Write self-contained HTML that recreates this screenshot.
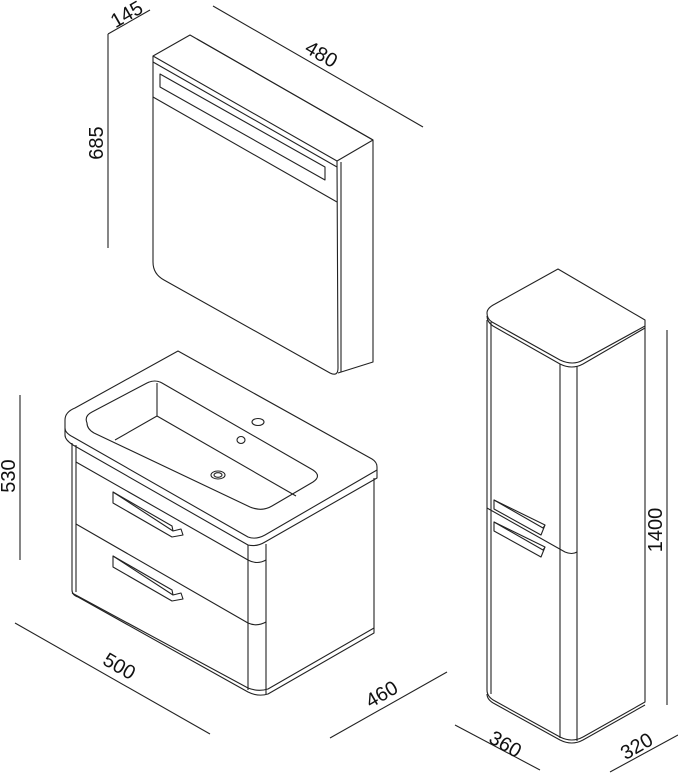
<!DOCTYPE html>
<html><head><meta charset="utf-8"><style>
html,body{margin:0;padding:0;background:#fff;}
svg{display:block;}
text{font-family:"Liberation Sans",sans-serif;font-size:20px;fill:#111;}
</style></head><body>
<svg width="678" height="779" viewBox="0 0 678 779" xmlns="http://www.w3.org/2000/svg">
<g fill="none" stroke="#222" stroke-width="1.1" stroke-linejoin="round">
<!-- Mirror cabinet -->
<path d="M153,56 L190,35 L373,140 L337,161 Z"/>
<path d="M197,39 L373,140"/>
<path d="M153,62 L337,167"/>
<path d="M153,56 L153,262 Q153,274 164,280 L330,373 Q338,377 338,368 L337,161"/>
<path d="M341,162 L341,372"/>
<path d="M373,140 L373,362 L338,373"/>
<path d="M160,74 L325,167 L325,180 L160,87 Z"/>
<path d="M153,97 L337,202"/>
<!-- mirror dims -->
<path d="M108,34 L108,248"/>
<path d="M108,34 L150,10"/>
<path d="M213,6 L423,127"/>
<!-- Vanity countertop -->
<path d="M65,420 Q65,412 75,408 L178,351 L372,459 Q377,462 377,467 L377,478 L265,542 Q257,547 248,545 L73,445 Q65,440 65,435 Z"/>
<path d="M65,428 Q65,433 73,437 L248,537 Q256,540 265,535 L377,470"/>
<!-- basin -->
<path d="M87,423 Q84,416 92,412 L147,383 Q155,379 162,383 L313,470 Q322,476 313,482 L272,506 Q262,512 250,507 L94,433 Q87,429 87,423 Z"/>
<path d="M157,383 L157,416 L115,440"/>
<path d="M157,416 L296,496"/>
<ellipse cx="258" cy="422" rx="6" ry="3.5"/>
<ellipse cx="241" cy="440" rx="4" ry="3.5"/>
<ellipse cx="218" cy="475" rx="7" ry="4"/>
<ellipse cx="218" cy="475" rx="4" ry="2.3"/>
<!-- body -->
<path d="M72,443 L72,590 Q72,595 78,597 L248,692 Q258,697 268,694 L374,633 L374,478"/>
<path d="M76,445 L76,592"/>
<path d="M72,593 L248,688 Q258,692 268,689 L374,628"/>
<path d="M248,545 L248,690"/>
<path d="M266,544 L266,694"/>
<path d="M76,462 L248,560 Q257,565 266,560"/>
<path d="M76,524 L248,623 Q257,627 266,622"/>
<!-- handles -->
<path d="M113,492 L113,503 L172,537 L183,535 L181,529 L173,531 Z"/>
<path d="M113,492 L172,526 L173,531"/>
<path d="M113,556 L113,567 L172,601 L183,599 L181,593 L173,595 Z"/>
<path d="M113,556 L172,590 L173,595"/>
<!-- vanity dims -->
<path d="M20,395 L20,560"/>
<path d="M15,623 L210,734"/>
<path d="M330,738 L447,672"/>
<!-- Tall cabinet -->
<path d="M487,313 Q487,308 495,304 L558,269 L645,320 L645,326 L583,360 Q573,366 560,360 L492,322 Q487,319 487,313 Z"/>
<path d="M487,316 Q487,322 493,326 L560,364 Q572,370 583,364 L645,328"/>
<path d="M487,320 L487,690 Q487,697 495,701 L560,737 Q572,743 583,737 L645,702 L645,326"/>
<path d="M491,322 L491,694"/>
<path d="M487,694 Q487,700 495,704 L560,740 Q572,746 583,740 L645,705"/>
<path d="M560,364 L560,738"/>
<path d="M577,366 L577,741"/>
<path d="M487,508 L565,552 Q572,555 577,552"/>
<!-- tall handles -->
<path d="M494,500 L494,509 L541,535 L545,525 Z"/>
<path d="M494,500 L543,528 L545,525"/>
<path d="M494,522 L494,531 L541,557 L545,547 Z"/>
<path d="M494,522 L543,550 L545,547"/>
<!-- tall dims -->
<path d="M667,330 L667,705"/>
<path d="M455,725 L540,770"/>
<path d="M610,772 L678,735"/>
</g>
<text transform="translate(103,143) rotate(-90)" text-anchor="middle">685</text>
<text transform="translate(130,20) rotate(-30)" text-anchor="middle">145</text>
<text transform="translate(318,60) rotate(30)" text-anchor="middle">480</text>
<text transform="translate(15,476) rotate(-90)" text-anchor="middle">530</text>
<text transform="translate(116,672) rotate(30)" text-anchor="middle">500</text>
<text transform="translate(385,700) rotate(-30)" text-anchor="middle">460</text>
<text transform="translate(662,530) rotate(-90)" text-anchor="middle">1400</text>
<text transform="translate(502,750) rotate(30)" text-anchor="middle">360</text>
<text transform="translate(640,752) rotate(-30)" text-anchor="middle">320</text>
</svg>
</body></html>
